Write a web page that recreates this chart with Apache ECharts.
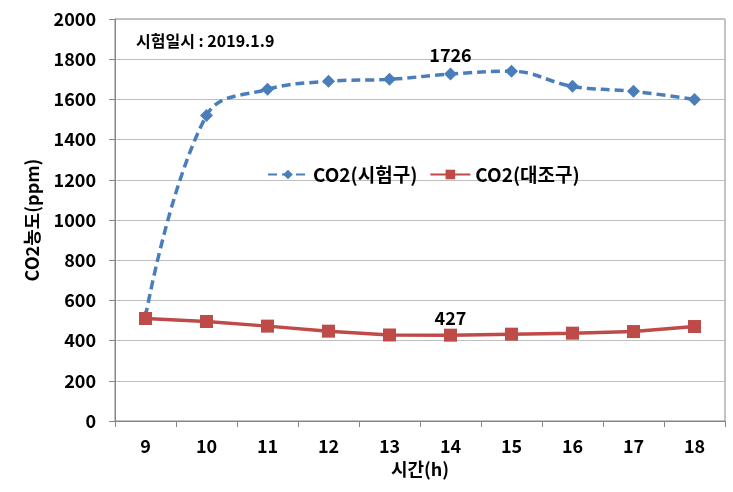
<!DOCTYPE html>
<html><head><meta charset="utf-8">
<script src="https://cdn.jsdelivr.net/npm/echarts@6/dist/echarts.min.js"></script>
<style>html,body{margin:0;padding:0;background:#fff}#c{width:733px;height:492px}</style>
</head><body><div id="c"></div>
<script>
const categories = ['9','10','11','12','13','14','15','16','17','18'];
const testValues = [520, 1520, 1650, 1690, 1700, 1726, 1740, 1665, 1640, 1600];
const controlValues = [510, 495, 472, 447, 428, 427, 432, 437, 445, 470];
const testName = 'CO2(시험구)';
const controlName = 'CO2(대조구)';
const labelIndex = 5;
const yTicks = {min: 0, max: 2000, interval: 200};
const font = '"Noto Sans CJK KR", "Noto Sans", sans-serif';

const chart = echarts.init(document.getElementById('c'));
function withLabel(arr){
  return arr.map((v,i)=> i===labelIndex ? {value:v, label:{show:true}} : v);
}
chart.setOption({
  animation:false,
  textStyle:{fontFamily:font},
  grid:{left:115, right:8, top:19, bottom:71, show:true, borderColor:'#868686', borderWidth:1},
  graphic:[{type:'text', left:136, top:33, style:{text:'시험일시 : 2019.1.9', font:'bold 16px '+font, fill:'#000'}}],
  legend:{
    top:160, left:262, itemGap:12, itemWidth:40, itemHeight:12,
    textStyle:{fontFamily:font, fontWeight:'bold', fontSize:19, color:'#000'},
    data:[testName, controlName]
  },
  xAxis:{
    type:'category', data:categories, boundaryGap:true,
    name:'시간(h)', nameLocation:'middle', nameGap:38,
    nameTextStyle:{fontFamily:font, fontWeight:'bold', fontSize:18, color:'#000'},
    axisLine:{lineStyle:{color:'#868686'}},
    axisTick:{show:true, length:6, lineStyle:{color:'#868686'}},
    axisLabel:{fontFamily:font, fontWeight:'bold', fontSize:18, color:'#000', margin:16},
    splitLine:{show:false}
  },
  yAxis:{
    type:'value', min:yTicks.min, max:yTicks.max, interval:yTicks.interval,
    name:'CO2농도(ppm)', nameLocation:'middle', nameGap:74, nameRotate:90,
    nameTextStyle:{fontFamily:font, fontWeight:'bold', fontSize:18, color:'#000'},
    axisLine:{show:true, lineStyle:{color:'#868686'}},
    axisTick:{show:true, length:6, lineStyle:{color:'#868686'}},
    axisLabel:{fontFamily:font, fontWeight:'bold', fontSize:18, color:'#000', margin:19, formatter:v=>String(v)},
    splitLine:{show:true, lineStyle:{color:'#bfbfbf'}}
  },
  series:[
    {
      name:testName, type:'line', data:withLabel(testValues), smooth:0.4,
      symbol:'diamond', symbolSize:13,
      lineStyle:{color:'#4a7ebb', width:3.5, type:[9,5]},
      itemStyle:{color:'#4a7ebb'},
      label:{show:false, position:'top', distance:3, fontFamily:font, fontWeight:'bold', fontSize:18, color:'#000'},
      z:2
    },
    {
      name:controlName, type:'line', data:withLabel(controlValues), smooth:false,
      symbol:'rect', symbolSize:13,
      lineStyle:{color:'#be4b48', width:3.5},
      itemStyle:{color:'#be4b48'},
      label:{show:false, position:'top', distance:2, fontFamily:font, fontWeight:'bold', fontSize:18, color:'#000'},
      z:3
    }
  ]
});
</script></body></html>
